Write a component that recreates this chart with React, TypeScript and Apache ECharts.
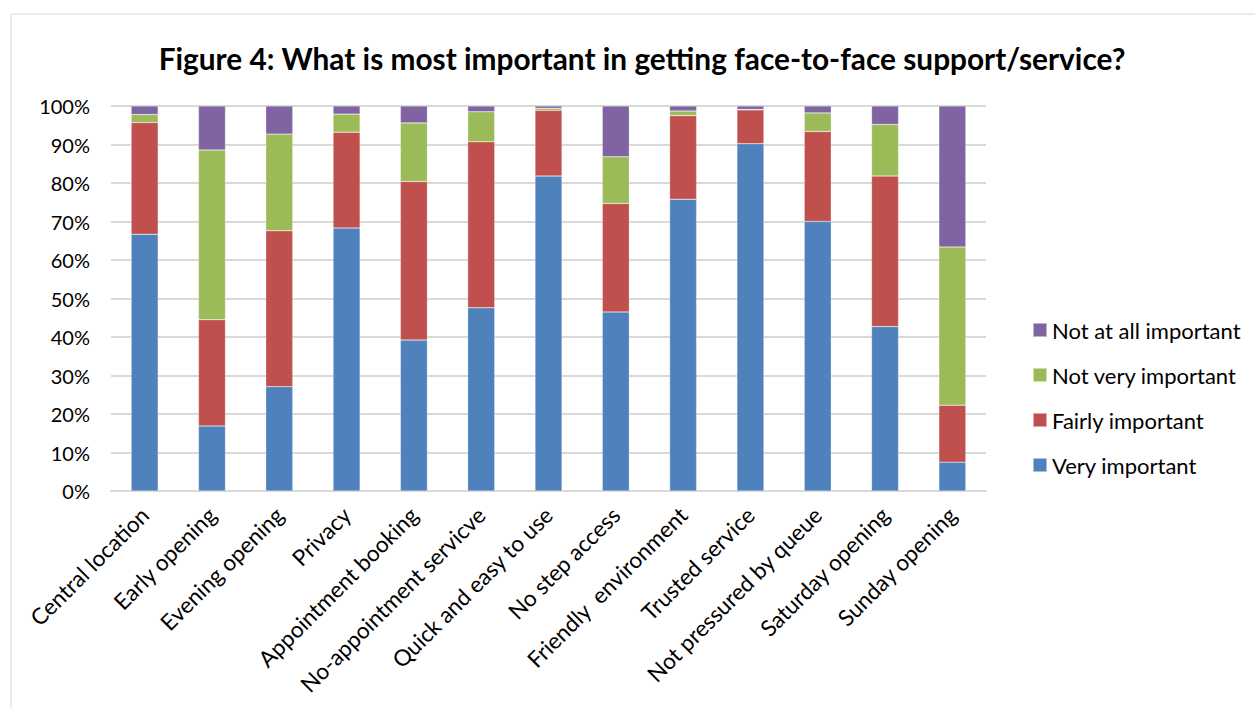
import React, { useEffect, useRef } from "react";
import * as echarts from "echarts";

const categories = [
  "Central location",
  "Early opening",
  "Evening opening",
  "Privacy",
  "Appointment booking",
  "No-appointment servicve",
  "Quick and easy to use",
  "No step access",
  "Friendly  environment",
  "Trusted service",
  "Not pressured by queue",
  "Saturday opening",
  "Sunday opening",
];

const veryImportant = [66.7, 16.9, 27.1, 68.3, 39.2, 47.6, 81.8, 46.5, 75.8, 90.2, 70.0, 42.7, 7.5];
const fairlyImportant = [29.0, 27.6, 40.5, 24.9, 41.2, 43.1, 17.1, 28.2, 21.7, 8.8, 23.4, 39.1, 14.8];
const notVeryImportant = [2.1, 44.1, 25.1, 4.7, 15.2, 7.8, 0.5, 12.1, 1.2, 0.1, 4.8, 13.4, 41.1];
const notAtAllImportant = [2.2, 11.4, 7.3, 2.1, 4.4, 1.5, 0.6, 13.2, 1.3, 0.9, 1.8, 4.8, 36.6];

const seriesNames = ["Very important", "Fairly important", "Not very important", "Not at all important"];
const seriesColors = ["#4F81BD", "#C0504D", "#9BBB59", "#8064A2"];
const seriesData = [veryImportant, fairlyImportant, notVeryImportant, notAtAllImportant];

const FONT = "Lato, 'Open Sans', sans-serif";

export default function App() {
  const ref = useRef<HTMLDivElement>(null);
  useEffect(() => {
    if (!ref.current) return;
    const chart = echarts.init(ref.current, null, { renderer: "svg" });
    chart.setOption({
      animation: false,
      backgroundColor: "#ffffff",
      title: {
        text: "Figure 4: What is most important in getting face-to-face support/service?",
        left: 637,
        textAlign: "center",
        top: 38,
        textStyle: { fontFamily: FONT, fontWeight: "bold", fontSize: 29.8, color: "#000" },
      },
      graphic: [
        {
          type: "rect",
          shape: { x: 11, y: 14, width: 1260, height: 710 },
          style: { fill: "none", stroke: "#d9d9d9", lineWidth: 1 },
          silent: true,
        },
      ],
      legend: {
        orient: "vertical",
        left: 1027,
        top: 314,
        itemWidth: 14,
        itemHeight: 14,
        itemGap: 23,
        icon: "rect",
        data: [...seriesNames].reverse(),
        textStyle: { fontFamily: FONT, fontSize: 22, color: "#000" },
      },
      grid: { left: 111, top: 106, width: 875, height: 385, containLabel: false },
      xAxis: {
        type: "category",
        data: categories,
        axisLine: { lineStyle: { color: "#d9d9d9", width: 2 } },
        axisTick: { show: false },
        axisLabel: {
          rotate: 45,
          interval: 0,
          margin: 20,
          fontFamily: FONT,
          fontSize: 22.5,
          color: "#000",
        },
      },
      yAxis: {
        type: "value",
        min: 0,
        max: 100,
        interval: 10,
        axisLine: { show: false },
        axisTick: { show: false },
        splitLine: { lineStyle: { color: "#d9d9d9", width: 2 } },
        axisLabel: {
          formatter: "{value}%",
          fontFamily: FONT,
          fontSize: 20,
          color: "#000",
          margin: 21,
        },
      },
      series: seriesNames.map((name, i) => ({
        name,
        type: "bar",
        stack: "total",
        barWidth: 27,
        data: seriesData[i],
        itemStyle: { color: seriesColors[i], borderColor: "rgba(255,255,255,0.5)", borderWidth: 0.5 },
      })),
    });
    return () => chart.dispose();
  }, []);
  return (
    <div
      ref={ref}
      style={{ position: "fixed", left: 0, top: 0, width: 1255, height: 708 }}
    />
  );
}
